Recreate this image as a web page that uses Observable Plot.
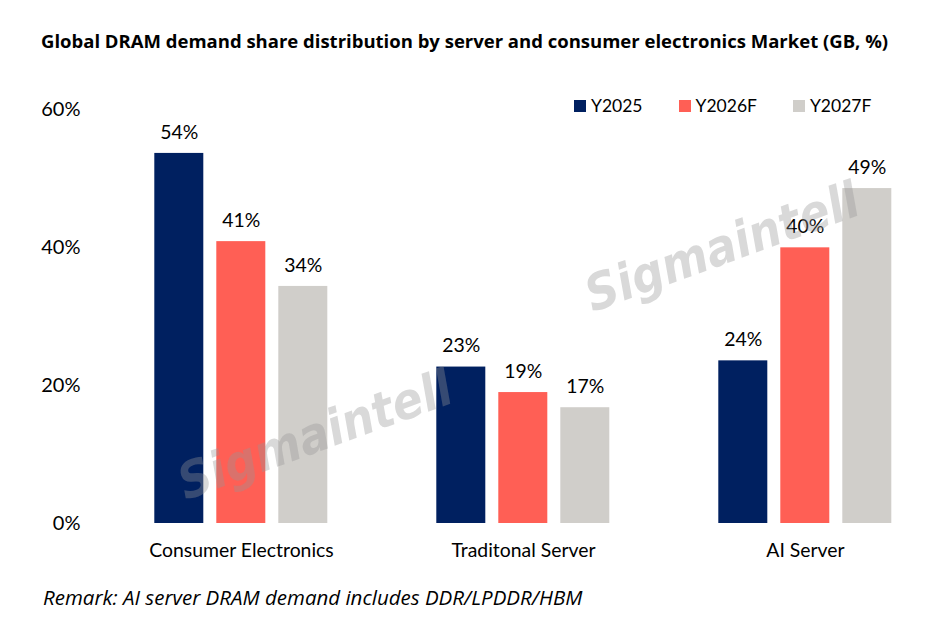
<!DOCTYPE html>
<html>
<head>
<meta charset="utf-8">
<script src="https://cdn.jsdelivr.net/npm/d3@7"></script>
<script src="https://cdn.jsdelivr.net/npm/@observablehq/plot@0.6"></script>
<style>
  body { margin: 0; background: #fff; }
  #wrap { position: relative; width: 933px; height: 636px; overflow: hidden; font-family: Lato, "Open Sans", sans-serif; color: #000; }
  #title { position: absolute; left: 41px; top: 28px; font-family: "Open Sans", sans-serif; font-weight: 700; font-size: 18.5px; white-space: nowrap; }
  #chart { position: absolute; left: 0; top: 80px; }
  #legend { position: absolute; left: 574px; top: 95px; display: flex; gap: 36px; font-size: 17.5px; }
  #legend .item { display: flex; align-items: center; gap: 5px; }
  #legend .sw { width: 12px; height: 12px; display: inline-block; }
  #caption { position: absolute; left: 43px; top: 583px; font-family: "Open Sans", sans-serif; font-style: italic; font-size: 20.5px; white-space: nowrap; }
  .wm { position: absolute; font-family: "DejaVu Sans", sans-serif; font-stretch: condensed; font-weight: 700; font-style: italic; font-size: 50px; color: rgba(150,150,150,0.36); transform: translate(-50%, -50%) rotate(-20deg); white-space: nowrap; pointer-events: none; }
</style>
</head>
<body>
<div id="wrap">
  <div id="title"></div>
  <div id="chart"></div>
  <div id="legend"></div>
  <div id="caption"></div>
</div>
<script>
const titleText = "Global DRAM demand share distribution by server and consumer electronics Market (GB, %)";
const captionText = "Remark: AI server DRAM demand includes DDR/LPDDR/HBM";
const watermarkText = "Sigmaintell";

const categories = ["Consumer Electronics", "Traditonal Server", "AI Server"];
const years = ["Y2025", "Y2026F", "Y2027F"];
const y2025 = [53.7, 22.7, 23.6];
const y2026 = [40.9, 19.0, 40.0];
const y2027 = [34.4, 16.8, 48.6];
const yTicks = [0, 20, 40, 60];
const colors = ["#002060", "#FF5F55", "#D0CECA"];

const series = [y2025, y2026, y2027];
const data = categories.flatMap((c, i) => years.map((yr, j) => ({category: c, year: yr, value: series[j][i]})));

document.getElementById("title").textContent = titleText;
document.getElementById("caption").textContent = captionText;

const legend = document.getElementById("legend");
years.forEach((yr, j) => {
  const it = document.createElement("div");
  it.className = "item";
  const sw = document.createElement("span");
  sw.className = "sw";
  sw.style.background = colors[j];
  const tx = document.createElement("span");
  tx.textContent = yr;
  it.appendChild(sw); it.appendChild(tx);
  legend.appendChild(it);
});

const chart = Plot.plot({
  width: 933,
  height: 488,
  marginTop: 29.5,
  marginBottom: 45,
  marginLeft: 117.7,
  marginRight: 3.7,
  style: {fontFamily: "Lato, 'Open Sans', sans-serif", fontSize: "19px", color: "#000", background: "transparent"},
  fx: {domain: categories, paddingInner: 0.332, paddingOuter: 0.1, label: null},
  x: {domain: years, paddingInner: 0.21, paddingOuter: 0.105, axis: null},
  y: {domain: [0, 60], label: null},
  color: {domain: years, range: colors},
  marks: [
    Plot.axisY({ticks: yTicks, tickSize: 0, tickPadding: 67, tickFormat: d => d + "%", label: null, fontSize: 20}),
    Plot.axisFx({anchor: "bottom", tickSize: 0, tickPadding: 20, label: null, fontSize: 19.4}),
    Plot.barY(data, {fx: "category", x: "year", y: "value", fill: "year"}),
    Plot.text(data, {fx: "category", x: "year", y: "value", text: d => Math.round(d.value) + "%", dy: -21, fontSize: 19.4, fill: "#000"})
  ]
});
document.getElementById("chart").appendChild(chart);

const wrap = document.getElementById("wrap");
[[722, 247], [315, 435]].forEach(([cx, cy]) => {
  const w = document.createElement("div");
  w.className = "wm";
  w.textContent = watermarkText;
  w.style.left = cx + "px";
  w.style.top = cy + "px";
  wrap.appendChild(w);
});
</script>
</body>
</html>
